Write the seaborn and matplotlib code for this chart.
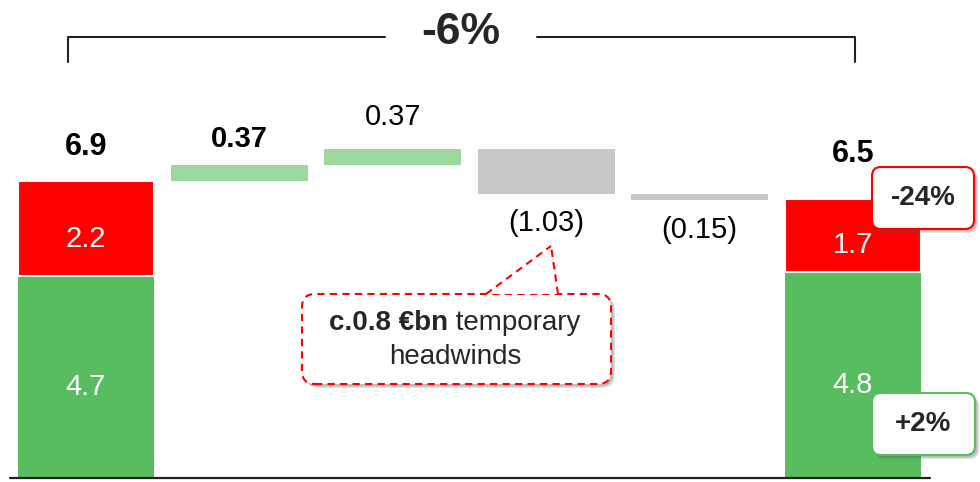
import matplotlib
matplotlib.use("Agg")
import matplotlib.pyplot as plt
from matplotlib.patches import FancyBboxPatch, Polygon
from matplotlib.lines import Line2D
import seaborn as sns
import pandas as pd

# Dados da cascata
steps = ["Início", "Alavanca 1", "Alavanca 2", "Impacto 1", "Impacto 2", "Fim"]
start_green, start_red = 4.7, 2.2
end_green, end_red = 4.8, 1.7
changes = [0.37, 0.37, -1.03, -0.15]
total_labels = ["6.9", "6.5"]
change_labels = ["0.37", "0.37", "(1.03)", "(0.15)"]
change_bold = [True, False, False, False]
bridge_pct = "-6%"
red_pct, green_pct = "-24%", "+2%"
note_bold, note_rest, note_line2 = "c.0.8 €bn", " temporary", "headwinds"

# Cores
GREEN = "#57BD5E"
RED = "#FF0000"
LIGHT = "#9BD89D"
GREY = "#C8C8C8"

sns.set_style("white")
plt.rcParams["font.family"] = ["Liberation Sans", "DejaVu Sans"]

W, H, DPI = 980, 482, 100
fig = plt.figure(figsize=(W / DPI, H / DPI), dpi=DPI)
ax = fig.add_axes([0, 0, 1, 1])

# Níveis acumulados
start_total = start_green + start_red
end_total = end_green + end_red
levels = [start_total]
for c in changes:
    levels.append(levels[-1] + c)
mid = steps[1:5]

seg = pd.DataFrame({
    "step": [steps[0], steps[5], steps[0], steps[5]] + mid,
    "height": [start_green, end_green, start_red, end_red] + [abs(c) for c in changes],
    "bottom": [0, 0, start_green, end_green] + [min(levels[i], levels[i + 1]) for i in range(4)],
    "layer": ["green", "green", "red", "red"] + ["up" if c > 0 else "down" for c in changes],
})
colors = {"green": GREEN, "red": RED, "up": LIGHT, "down": GREY}
edge_lw = {"green": 0, "red": 1.5, "up": 0, "down": 0}

for layer, d in seg.groupby("layer", sort=False):
    d = d.assign(pos=d["step"].map(steps.index)).sort_values("pos")
    sns.barplot(data=d, x="step", y="height", order=steps, bottom=d["bottom"].to_numpy(),
                color=colors[layer], saturation=1, width=0.893, errorbar=None, ax=ax,
                edgecolor="white", linewidth=edge_lw[layer])

PT = 72 / DPI  # pixels -> pontos

# Rótulos dos totais
for x, y, lab, off in [(0, start_total, total_labels[0], 34), (5, end_total, total_labels[1], 45)]:
    ax.annotate(lab, (x, y), xytext=(0, off * PT), textcoords="offset points",
                ha="center", va="center", fontsize=22, fontweight="bold", color="black")

# Rótulos das variações
change_offsets = [26, 32, -29, -30]
for i, (c, lab, b) in enumerate(zip(changes, change_labels, change_bold)):
    ax.annotate(lab, (i + 1, levels[i + 1]), xytext=(0, change_offsets[i] * PT),
                textcoords="offset points", ha="center", va="center", fontsize=21,
                fontweight="bold" if b else "normal", color="black")

# Rótulos dentro das barras
for x, g, r in [(0, start_green, start_red), (5, end_green, end_red)]:
    for y, v in [(g / 2, g), (g + r / 2, r)]:
        ax.annotate(f"{v:.1f}", (x, y), xytext=(0, -10 * PT), textcoords="offset points",
                    ha="center", va="center", fontsize=21, color="white")

ax.set_xlim(-86 / 153.4, (W - 86) / 153.4)
ax.set_ylim(-(H - 478) / 43, 478 / 43)
ax.axis("off")
ax.axhline(0, xmin=10 / W, xmax=930 / W, color="#222222", lw=1.6, zorder=5)


# Anotações em coordenadas de pixel
def P(x, y):
    return x / DPI, (H - y) / DPI


tr = fig.dpi_scale_trans


def rbox(x0, y0, x1, y1, ec, ls="-", r=10, lw=1.5, z=10):
    for k, a in [(4, 0.18), (2.5, 0.25)]:
        sh = FancyBboxPatch(P(x0 + k, y1 + k), (x1 - x0) / DPI, (y1 - y0) / DPI,
                            boxstyle=f"round,pad=0,rounding_size={r / DPI}", transform=tr,
                            fc="#555555", ec="none", alpha=a, zorder=z - 1)
        fig.add_artist(sh)
    b = FancyBboxPatch(P(x0, y1), (x1 - x0) / DPI, (y1 - y0) / DPI,
                       boxstyle=f"round,pad=0,rounding_size={r / DPI}", transform=tr,
                       fc="white", ec=ec, lw=lw, ls=ls, zorder=z)
    fig.add_artist(b)


# Colchete com -6%
for xs, ys in [([68, 68, 385], [62, 37, 37]), ([537, 855, 855], [37, 37, 62])]:
    pts = [P(x, y) for x, y in zip(xs, ys)]
    fig.add_artist(Line2D([p[0] for p in pts], [p[1] for p in pts], transform=tr,
                          color="#222222", lw=1.5, solid_joinstyle="round"))
fig.text(*P(461, 33), bridge_pct, transform=tr, ha="center", va="center",
         fontsize=32, fontweight="bold")

# Balão de nota
dash = (0, (3.5, 2.5))
rbox(302, 294, 611, 384, RED, ls=dash, r=13, z=10)
tip, lb, rb = (551, 246), (486, 294), (558, 294)
fig.add_artist(Polygon([P(*lb), P(*tip), P(*rb)], closed=True, transform=tr,
                       fc="white", ec="none", zorder=11))
for a in (lb, rb):
    fig.add_artist(Line2D([P(*a)[0], P(*tip)[0]], [P(*a)[1], P(*tip)[1]], transform=tr,
                          color=RED, lw=1.5, ls=dash, zorder=12))
fig.text(*P(448, 323), note_bold, transform=tr, ha="right", va="center",
         fontsize=20, fontweight="bold", zorder=13)
fig.text(*P(448, 323), note_rest, transform=tr, ha="left", va="center",
         fontsize=20, zorder=13)
fig.text(*P(455, 357), note_line2, transform=tr, ha="center", va="center",
         fontsize=20, zorder=13)

# Caixas de variação
rbox(872, 167, 974, 229, RED, r=9, z=10)
fig.text(*P(923, 198), red_pct, transform=tr, ha="center", va="center",
         fontsize=20, fontweight="bold", zorder=13)
rbox(872, 393, 975, 455, GREEN, r=9, z=10)
fig.text(*P(923, 424), green_pct, transform=tr, ha="center", va="center",
         fontsize=20, fontweight="bold", zorder=13)

fig.savefig("out.png", dpi=DPI, facecolor="white")
